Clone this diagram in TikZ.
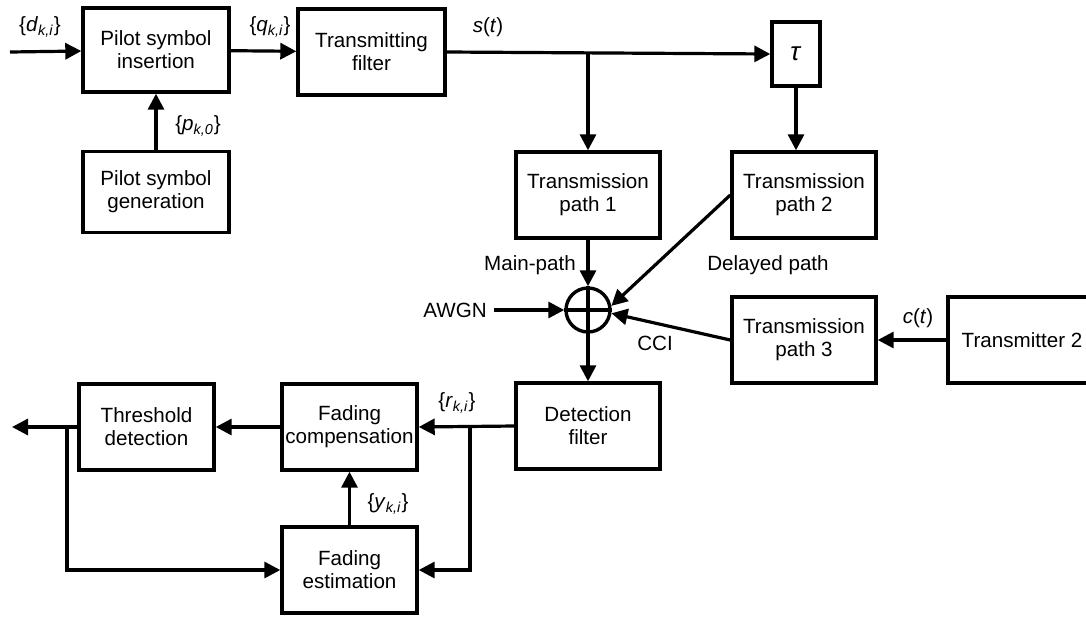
\documentclass[tikz,border=0pt]{standalone}
\usepackage{fontspec}
\setmainfont{Liberation Sans}
\usetikzlibrary{arrows.meta}
\newcommand{\seqsym}[2]{\{\textit{#1}\textsubscript{\textit{#2}}\}}
\begin{document}
\begin{tikzpicture}[x=0.5pt,y=-0.5pt,
    font=\fontsize{10.3}{11.5}\selectfont,
    block/.style={draw,line width=1.7pt,align=center,inner sep=0pt,
      minimum width=72pt,minimum height=43pt},
    lbl/.style={inner sep=1pt},
    sig/.style={line width=1.6pt,-{Triangle[length=8pt,width=8pt]}}]
  \useasboundingbox (0,0) rectangle (1086,616);
  \draw
    (156,50) node[block,minimum width=73pt,minimum height=42pt] (psi){Pilot symbol\\insertion}
    (371.5,52) node[block,minimum width=73.5pt] (tf){Transmitting\\filter}
    (156,192) node[block,minimum width=73pt,minimum height=40.5pt] (psg){Pilot symbol\\generation}
    (796,54) node[block,minimum width=24pt,minimum height=32pt,font=\fontsize{13}{14}\selectfont] (tau){\textit{τ}}
    (588,195) node[block] (tp1){Transmission\\path 1}
    (804,195) node[block] (tp2){Transmission\\path 2}
    (804,340) node[block] (tp3){Transmission\\path 3}
    (1022,340) node[block,minimum width=74pt] (tx2){Transmitter 2}
    (588,310) node[draw,circle,line width=1.7pt,minimum size=22pt,inner sep=0pt] (sum){}
    (588,426) node[block] (df){Detection\\filter}
    (349.5,427) node[block,minimum width=67.5pt] (fc){Fading\\compensation}
    (146.5,427) node[block,minimum width=67.5pt] (td){Threshold\\detection}
    (349.5,570) node[block,minimum width=67.5pt] (fe){Fading\\estimation};
  \draw[line width=1.7pt] (sum.north) -- (sum.south) (sum.west) -- (sum.east);
  \draw
    (40,27) node[lbl] (dlbl){\seqsym{d}{k,i}}
    (270,27) node[lbl] (qlbl){\seqsym{q}{k,i}}
    (198,126) node[lbl] (plbl){\seqsym{p}{k,0}}
    (488,27) node[lbl] (slbl){\textit{s}(\textit{t})}
    (530,265) node[lbl] (mainlbl){Main-path}
    (768,265) node[lbl] (dellbl){Delayed path}
    (455,310) node (awgn){AWGN}
    (655,343) node[lbl] (ccilbl){CCI}
    (918,318) node[lbl] (clbl){\textit{c}(\textit{t})}
    (457,403) node[lbl] (rlbl){\seqsym{r}{k,i}}
    (388,504) node[lbl] (ylbl){\seqsym{y}{k,i}};
  \coordinate (din) at (10,52);
  \coordinate (split) at (588,52);
  \coordinate (rsplit) at (470,427);
  \coordinate (rdown) at (470,570);
  \coordinate (out) at (12,427);
  \coordinate (tsplit) at (67,427);
  \coordinate (tdown) at (67,570);
  \begin{scope}[sig]
    \draw (din) to (psi);
    \draw (psg) to (psi);
    \draw (psi) to (tf);
    \draw (tf.east) to (tau.west);
    \draw (split) to (tp1.north);
    \draw (tau.south) to (tau.south |- tp2.north);
    \draw (tp1) to (sum);
    \draw (awgn) to (sum);
    \draw (tp2.west) to (sum.10);
    \draw (tp3.west) to (sum.-8);
    \draw (tx2) to (tp3);
    \draw (sum) to (df);
    \draw (df.west) to (fc.east);
    \draw (rsplit) -- (rdown) to (fe.east);
    \draw (fc) to (td);
    \draw (td.west) to (out);
    \draw (tsplit) -- (tdown) to (fe.west);
    \draw (fe) to (fc);
  \end{scope}
\end{tikzpicture}
\end{document}
